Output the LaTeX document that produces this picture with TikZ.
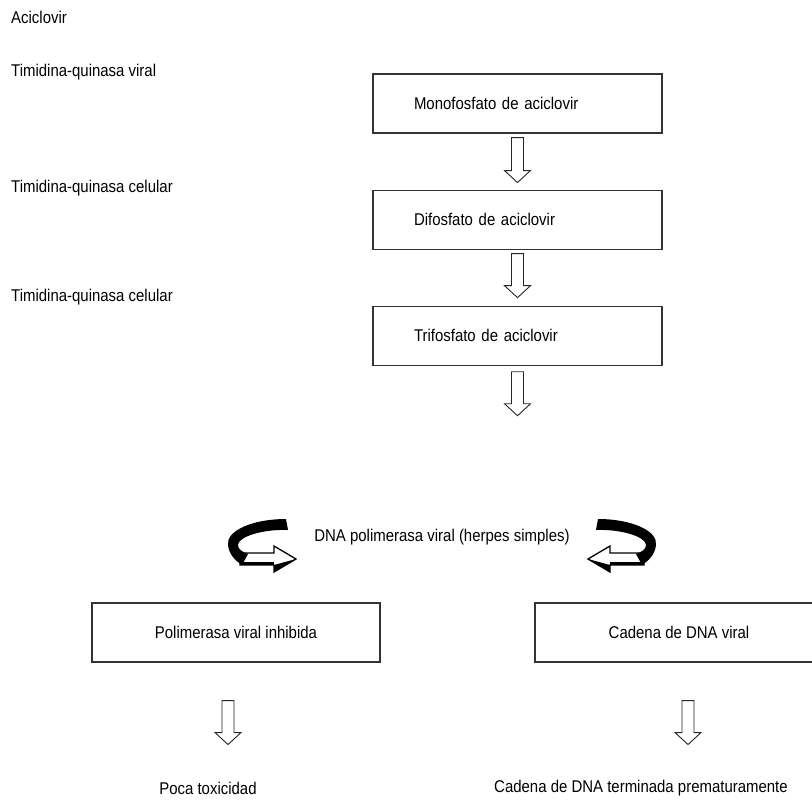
\documentclass[tikz,border=0pt]{standalone}
\usepackage{fontspec}
\setmainfont{Liberation Sans}[FakeStretch=0.88]
\usetikzlibrary{positioning}

\begin{document}
\begin{tikzpicture}[x=1pt, y=1pt,
			every node/.style = {font=\fontsize{17}{20}\selectfont, inner sep=0pt},
			enzyme/.style = {anchor=west},
			stepbox/.style = {draw=black!80, line width=1.1pt,
				minimum width=289pt, minimum height=59pt,
				text width=207pt, inner xsep=41pt, align=left},
			resultbox/.style = {draw=black!80, line width=1.1pt,
				minimum width=288pt, minimum height=59pt, align=center},
			pics/downarr/.style = {code={
				\draw[black!85, line width=0.9pt, fill=white]
					(-6,0) -- (-6,12-#1) -- (-13,12-#1) -- (0,-#1)
					-- (13,12-#1) -- (6,12-#1) -- (6,0) -- cycle;}},
			pics/turnarr/.style = {code={
				\draw[fill=white, line width=1.3pt]
					(-22,-8) -- (12,-8) -- (12,-1) -- (34,-14)
					-- (12,-27) -- (12,-20) -- (-22,-20) -- cycle;
				\fill (-22,-20) -- (12,-20) -- (12,-17) -- (-22,-17) -- cycle;
				\fill (12,-20) -- (34,-14) -- (12,-27) -- cycle;
				\fill (24,26) .. controls (-10,26) and (-36,14) .. (-34,0)
					.. controls (-33,-10) and (-26,-16) .. (-20,-20)
					-- (-14,-9) .. controls (-20,-7) and (-24,-4) .. (-24,0)
					.. controls (-24,8) and (0,16) .. (26,15) -- cycle;}}]
			\useasboundingbox (0,0) rectangle (812,-801);
			\node[enzyme] (acic) at (11,-17) {Aciclovir};
			\node[enzyme] (tkv) at (11,-72) {Timidina-quinasa viral};
			\node[enzyme] (tkc1) at (11,-188) {Timidina-quinasa celular};
			\node[enzyme] (tkc2) at (11,-297) {Timidina-quinasa celular};
			\node[stepbox] (mono) at (517.5,-103.5) {Monofosfato de aciclovir};
			\node[stepbox, below=56pt of mono] (di) {Difosfato de aciclovir};
			\node[stepbox, below=56pt of di] (tri) {Trifosfato de aciclovir};
			\pic at ([yshift=-4pt]mono.south) {downarr=45};
			\pic at ([yshift=-4pt]di.south) {downarr=44};
			\pic at ([yshift=-6pt]tri.south) {downarr=44};
			\node (pol) at (442,-537) {DNA polimerasa viral (herpes simples)};
			\pic at (262,-545) {turnarr};
			\pic[xscale=-1] at (622,-545) {turnarr};
			\node[resultbox] (inh) at (236,-632.5) {Polimerasa viral inhibida};
			\node[resultbox] (cad) at (679,-632.5) {Cadena de DNA viral};
			\pic at ([xshift=-8pt, yshift=-38pt]inh.south) {downarr=44};
			\pic at ([xshift=9pt, yshift=-38pt]cad.south) {downarr=44};
			\node (poca) at (208,-788) {Poca toxicidad};
			\node (term) at (641,-788) {Cadena de DNA terminada prematuramente};
		\end{tikzpicture}
\end{document}
